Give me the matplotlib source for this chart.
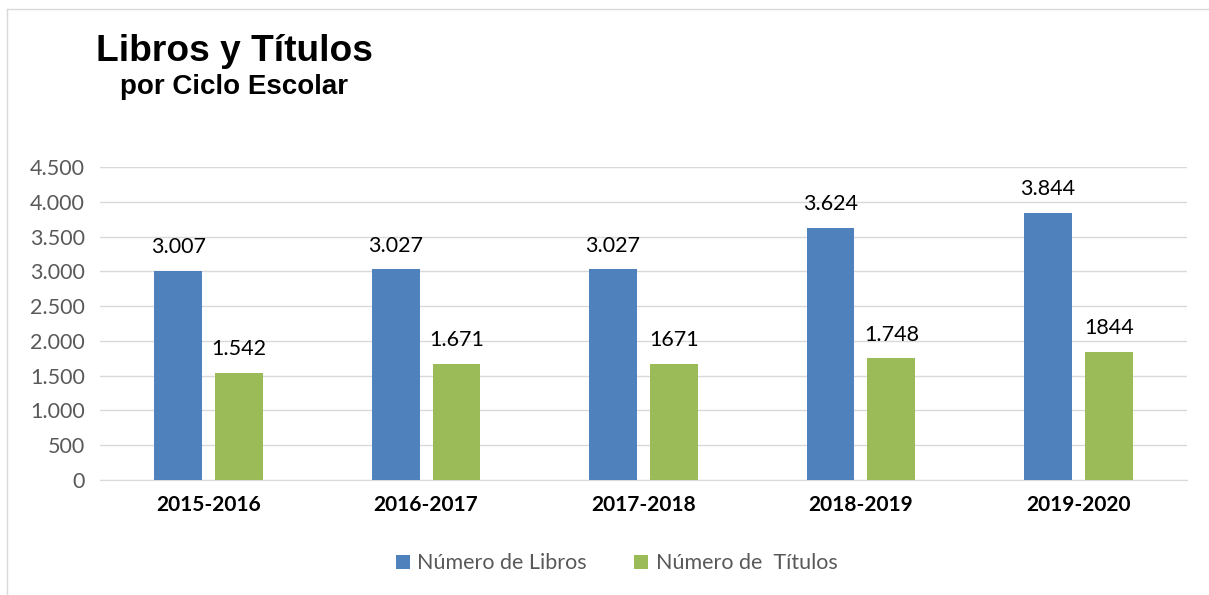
import numpy as np
import matplotlib.pyplot as plt
from matplotlib.ticker import FuncFormatter

ciclos = ['2015-2016', '2016-2017', '2017-2018', '2018-2019', '2019-2020']
libros = [3007, 3027, 3027, 3624, 3844]
titulos = [1542, 1671, 1671, 1748, 1844]
etiquetas_libros = ['3.007', '3.027', '3.027', '3.624', '3.844']
etiquetas_titulos = ['1.542', '1.671', '1671', '1.748', '1844']

azul = '#4F81BD'
verde = '#9BBB59'
gris = '#595959'

fig = plt.figure(figsize=(12.09, 5.95), dpi=100)
ax = fig.add_axes([0.0827, 0.1933, 0.8991, 0.526])

x = np.arange(len(ciclos))
w = 0.22
b1 = ax.bar(x - 0.14, libros, w, color=azul, label='Número de Libros', zorder=3)
b2 = ax.bar(x + 0.14, titulos, w, color=verde, label='Número de  Títulos', zorder=3)

for barras, textos in [(b1, etiquetas_libros), (b2, etiquetas_titulos)]:
    for rect, txt in zip(barras, textos):
        ax.annotate(txt, (rect.get_x() + rect.get_width() / 2, rect.get_height()),
                    xytext=(0, 10), textcoords='offset points', ha='center', va='bottom',
                    fontsize=15.5, family='Lato', color='black')

ax.set_xlim(-0.5, len(ciclos) - 0.5)
ax.set_ylim(0, 4500)
ax.set_yticks(np.arange(0, 4501, 500))
ax.yaxis.set_major_formatter(FuncFormatter(lambda v, p: f'{int(v):,}'.replace(',', '.')))
ax.set_xticks(x)
ax.set_xticklabels(ciclos, fontsize=15, fontweight='bold', family='Lato')
for lab in ax.get_yticklabels():
    lab.set_family('Lato')
    lab.set_fontsize(15.5)
    lab.set_color(gris)

ax.grid(axis='y', color='#d9d9d9', linewidth=1, zorder=0)
ax.tick_params(axis='both', length=0)
ax.tick_params(axis='y', pad=11)
ax.tick_params(axis='x', pad=11)
for s in ['top', 'right', 'left']:
    ax.spines[s].set_visible(False)
ax.spines['bottom'].set_color('#d9d9d9')

fig.text(0.0794, 0.897, 'Libros y Títulos', fontsize=26.7, fontweight='bold',
         family='Liberation Sans', va='baseline')
fig.text(0.0993, 0.842, 'por Ciclo Escolar', fontsize=20, fontweight='bold',
         family='Liberation Sans', va='baseline')

leg = fig.legend(loc='center', bbox_to_anchor=(0.51, 0.053), ncol=2, frameon=False,
                 prop={'family': 'Lato', 'size': 15.5}, handlelength=0.65,
                 handleheight=0.65, handletextpad=0.35, columnspacing=2.2)
for t in leg.get_texts():
    t.set_color(gris)

# marco del gráfico
fig.add_artist(plt.Line2D([0.0058, 0.0058], [0, 0.985], transform=fig.transFigure,
                          color='#d9d9d9', linewidth=1))
fig.add_artist(plt.Line2D([0.0058, 1], [0.985, 0.985], transform=fig.transFigure,
                          color='#d9d9d9', linewidth=1))

fig.savefig('out.png', dpi=100)
